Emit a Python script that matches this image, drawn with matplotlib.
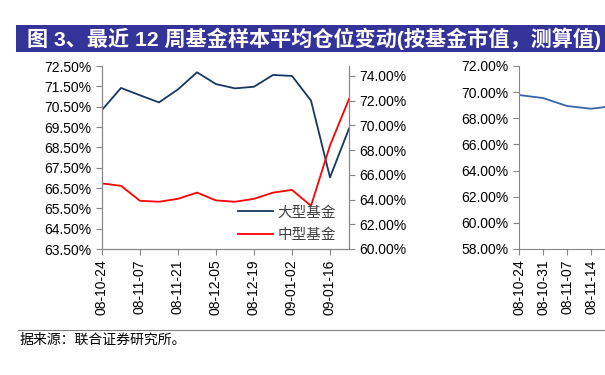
import numpy as np
import matplotlib.pyplot as plt
from matplotlib.patches import Rectangle
from matplotlib.lines import Line2D

plt.rcParams['font.family'] = ['Liberation Sans', 'Noto Sans CJK SC', 'DejaVu Sans']

# -------------------------------------------------------------------
# Data
# -------------------------------------------------------------------
dates = ["08-10-24", "08-10-31", "08-11-07", "08-11-14", "08-11-21", "08-11-28",
         "08-12-05", "08-12-12", "08-12-19", "08-12-26", "09-01-02", "09-01-09",
         "09-01-16", "09-01-23"]
large_fund = [70.34, 71.42, 71.06, 70.71, 71.35, 72.19, 71.61, 71.40, 71.48,
              72.06, 72.01, 70.80, 67.02, 69.42]
mid_fund = [65.30, 65.11, 63.90, 63.82, 64.06, 64.56, 63.93, 63.82, 64.06,
            64.56, 64.78, 63.49, 68.37, 72.13]

right_dates = ["08-10-24", "08-10-31", "08-11-07", "08-11-14", "08-11-21"]
right_values = [69.78, 69.55, 68.94, 68.73, 68.95]

title = "图 3、最近 12 周基金样本平均仓位变动(按基金市值，测算值)"
source = "据来源：联合证券研究所。"

W, H = 605, 375
fig = plt.figure(figsize=(W / 100, H / 100), dpi=100)

def box(x0, y0, x1, y1):
    # pixel box (top-left origin) -> figure fraction
    return [x0 / W, 1 - y1 / H, (x1 - x0) / W, (y1 - y0) / H]

axis_grey = "#868686"
tick_kw = dict(labelsize=10, colors=axis_grey, labelcolor="black", length=4, width=0.8)

# -------------------------------------------------------------------
# Title bar
# -------------------------------------------------------------------
fig.patches.append(Rectangle((16 / W, 1 - 52 / H), (W - 16) / W, 27 / H,
                             transform=fig.transFigure, facecolor="#333399",
                             edgecolor="none"))
fig.text(27 / W, 1 - 38.5 / H, title, color="white", fontsize=15.2,
         fontweight="bold", va="center", ha="left",
         family=["Liberation Sans", "Noto Sans CJK SC"])

# -------------------------------------------------------------------
# Left chart: dual axis
# -------------------------------------------------------------------
ax = fig.add_axes(box(102, 66, 349, 249))
x = np.arange(len(dates))
ax.plot(x, large_fund, color="#17375E", lw=1.3)
ax.set_xlim(0, len(dates) - 1)
ax.set_ylim(63.5, 72.5)
ax.set_yticks(np.arange(63.5, 72.51, 1.0))
ax.set_yticklabels([f"{v:.2f}%" for v in np.arange(63.5, 72.51, 1.0)])
ax.set_xticks(x[::2])
ax.set_xticklabels(dates[::2], rotation=90)
ax.tick_params(axis="both", **tick_kw)
ax.spines["top"].set_visible(False)
for s in ("left", "bottom", "right"):
    ax.spines[s].set_color(axis_grey)

ax2 = ax.twinx()
ax2.plot(x, mid_fund, color="#FF0000", lw=1.3)
ax2.set_ylim(60, 74.8)
ax2.set_yticks(np.arange(60, 74.1, 2))
ax2.set_yticklabels([f"{v:.2f}%" for v in np.arange(60, 74.1, 2)])
ax2.tick_params(axis="y", **tick_kw)
ax2.spines["top"].set_visible(False)
for s in ("left", "bottom", "right"):
    ax2.spines[s].set_color(axis_grey)

handles = [Line2D([], [], color="#17375E", lw=1.3),
           Line2D([], [], color="#FF0000", lw=1.3)]
leg = ax2.legend(handles, ["大型基金", "中型基金"], loc="lower right",
                 bbox_to_anchor=(1.0, -0.035), frameon=False,
                 handlelength=2.4, handletextpad=0.3, labelspacing=0.6,
                 prop={"family": "Noto Sans CJK SC", "size": 10.5})
for t in leg.get_texts():
    t.set_color("#404040")

# -------------------------------------------------------------------
# Right chart (cut off by the page edge)
# -------------------------------------------------------------------
n_right = 14
axr = fig.add_axes(box(519, 66, 519 + 24 * (n_right - 1), 249))
xr = np.arange(len(right_values))
axr.plot(xr, right_values, color="#3A64A6", lw=1.3)
axr.set_xlim(0, n_right - 1)
axr.set_ylim(58, 72)
axr.set_yticks(np.arange(58, 72.1, 2))
axr.set_yticklabels([f"{v:.2f}%" for v in np.arange(58, 72.1, 2)])
axr.set_xticks(xr[:4])
axr.set_xticklabels(right_dates[:4], rotation=90)
axr.tick_params(axis="both", **tick_kw)
for s in ("top", "right"):
    axr.spines[s].set_visible(False)
for s in ("left", "bottom"):
    axr.spines[s].set_color(axis_grey)

# -------------------------------------------------------------------
# Footer
# -------------------------------------------------------------------
fig.add_artist(Line2D([18 / W, 1.0], [1 - 330 / H, 1 - 330 / H],
                      transform=fig.transFigure, color="#808080", lw=0.8))
fig.text(20 / W, 1 - 340 / H, source, fontsize=10, va="center", ha="left",
         family="Noto Sans CJK SC", color="black")

fig.savefig("out.png", dpi=100)
